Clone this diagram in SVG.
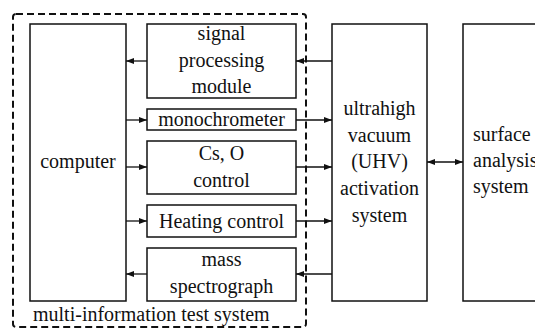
<svg xmlns="http://www.w3.org/2000/svg" width="535" height="329" viewBox="0 0 535 329">
<style>
.box{fill:#fff;stroke:#111;stroke-width:1.5}
text{font-family:'Liberation Serif','Times New Roman','DejaVu Serif',serif;font-size:20px;fill:#111;text-anchor:middle}
.l{text-anchor:start}
.c{stroke:#111;stroke-width:1.3;fill:none}
.dash{fill:none;stroke:#111;stroke-width:2;stroke-dasharray:7,4}
</style>
<defs>
<marker id="ah" viewBox="0 0 8 6" refX="8" refY="3" markerWidth="8" markerHeight="6" markerUnits="userSpaceOnUse" orient="auto-start-reverse">
<path d="M0,0 L8,3 L0,6 Z" fill="#111"/>
</marker>
</defs>
<rect width="535" height="329" fill="#fff"/>
<g id="group-multi">
<rect class="dash" x="13" y="14" width="293" height="313" rx="3"/>
<text class="l" x="33" y="321">multi-information test system</text>
</g>
<g id="computer">
<rect class="box" x="30" y="24" width="96" height="277"/>
<text x="78" y="168">computer</text>
</g>
<g id="signal">
<rect class="box" x="147" y="24" width="149" height="74"/>
<text x="221.5" y="40">signal</text>
<text x="221.5" y="67">processing</text>
<text x="221.5" y="93">module</text>
</g>
<g id="mono">
<rect class="box" x="147" y="109" width="149" height="21"/>
<text x="221.5" y="126">monochrometer</text>
</g>
<g id="cso">
<rect class="box" x="147" y="141" width="149" height="53"/>
<text x="221.5" y="160">Cs, O</text>
<text x="221.5" y="187">control</text>
</g>
<g id="heating">
<rect class="box" x="147" y="205" width="149" height="32"/>
<text x="221.5" y="228">Heating control</text>
</g>
<g id="mass">
<rect class="box" x="147" y="248" width="149" height="53"/>
<text x="221.5" y="266">mass</text>
<text x="221.5" y="293">spectrograph</text>
</g>
<g id="uhv">
<rect class="box" x="332" y="24" width="95" height="277"/>
<text x="379.5" y="115">ultrahigh</text>
<text x="379.5" y="142">vacuum</text>
<text x="379.5" y="168">(UHV)</text>
<text x="379.5" y="195">activation</text>
<text x="379.5" y="222">system</text>
</g>
<g id="surface">
<rect class="box" x="463" y="24" width="80" height="277"/>
<text class="l" x="473" y="141">surface</text>
<text class="l" x="473" y="167">analysis</text>
<text class="l" x="473" y="193">system</text>
</g>
<g id="connectors">
<line class="c" x1="147" y1="61" x2="126" y2="61" marker-end="url(#ah)"/>
<line class="c" x1="332" y1="61" x2="296" y2="61" marker-end="url(#ah)"/>
<line class="c" x1="126" y1="120" x2="147" y2="120" marker-end="url(#ah)"/>
<line class="c" x1="296" y1="120" x2="332" y2="120" marker-end="url(#ah)"/>
<line class="c" x1="126" y1="167" x2="147" y2="167" marker-end="url(#ah)"/>
<line class="c" x1="296" y1="167" x2="332" y2="167" marker-end="url(#ah)"/>
<line class="c" x1="126" y1="221" x2="147" y2="221" marker-end="url(#ah)"/>
<line class="c" x1="296" y1="221" x2="332" y2="221" marker-end="url(#ah)"/>
<line class="c" x1="147" y1="274" x2="126" y2="274" marker-end="url(#ah)"/>
<line class="c" x1="332" y1="274" x2="296" y2="274" marker-end="url(#ah)"/>
<line class="c" x1="427" y1="162" x2="463" y2="162" marker-start="url(#ah)" marker-end="url(#ah)"/>
</g>
</svg>
